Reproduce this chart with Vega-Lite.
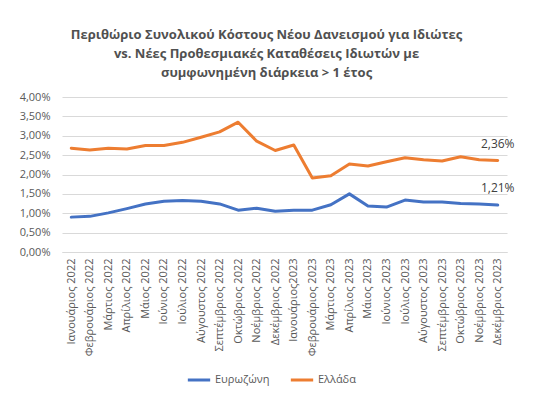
{
  "$schema": "https://vega.github.io/schema/vega-lite/v6.json",
  "autosize": {"type": "none"},
  "width": 445,
  "height": 155,
  "padding": {"left": 62, "top": 97, "right": 44, "bottom": 145},
  "background": "white",
  "title": {
    "text": ["Περιθώριο Συνολικού Κόστους Νέου Δανεισμού για Ιδιώτες", "vs. Νέες Προθεσμιακές Καταθέσεις Ιδιωτών με", "συμφωνημένη διάρκεια > 1 έτος"],
    "font": "Open Sans",
    "fontSize": 13,
    "fontWeight": "bold",
    "color": "#505050",
    "lineHeight": 19,
    "offset": 11,
    "anchor": "middle",
    "dx": -18
  },
  "config": {
    "locale": {"number": {"decimal": ",", "thousands": ".", "grouping": [3], "currency": ["", " €"]}},
    "view": {"stroke": null},
    "font": "Open Sans"
  },
  "data": {
    "values": [
      {"month": "Ιανουάριος 2022", "series": "Ευρωζώνη", "value": 0.0090},
      {"month": "Φεβρουάριος 2022", "series": "Ευρωζώνη", "value": 0.0092},
      {"month": "Μάρτιος 2022", "series": "Ευρωζώνη", "value": 0.0101},
      {"month": "Απρίλιος 2022", "series": "Ευρωζώνη", "value": 0.0112},
      {"month": "Μάιος 2022", "series": "Ευρωζώνη", "value": 0.0124},
      {"month": "Ιούνιος 2022", "series": "Ευρωζώνη", "value": 0.0131},
      {"month": "Ιούλιος 2022", "series": "Ευρωζώνη", "value": 0.0133},
      {"month": "Αύγουστος 2022", "series": "Ευρωζώνη", "value": 0.0131},
      {"month": "Σεπτέμβριος 2022", "series": "Ευρωζώνη", "value": 0.0124},
      {"month": "Οκτώβριος 2022", "series": "Ευρωζώνη", "value": 0.0108},
      {"month": "Νοέμβριος 2022", "series": "Ευρωζώνη", "value": 0.0113},
      {"month": "Δεκέμβριος 2022", "series": "Ευρωζώνη", "value": 0.0105},
      {"month": "Ιανουάριος2023", "series": "Ευρωζώνη", "value": 0.0108},
      {"month": "Φεβρουάριος 2023", "series": "Ευρωζώνη", "value": 0.0108},
      {"month": "Μάρτιος 2023", "series": "Ευρωζώνη", "value": 0.0122},
      {"month": "Απρίλιος 2023", "series": "Ευρωζώνη", "value": 0.0150},
      {"month": "Μάιος 2023", "series": "Ευρωζώνη", "value": 0.0119},
      {"month": "Ιούνιος 2023", "series": "Ευρωζώνη", "value": 0.0116},
      {"month": "Ιούλιος 2023", "series": "Ευρωζώνη", "value": 0.0134},
      {"month": "Αύγουστος 2023", "series": "Ευρωζώνη", "value": 0.0129},
      {"month": "Σεπτέμβριος 2023", "series": "Ευρωζώνη", "value": 0.0129},
      {"month": "Οκτώβριος 2023", "series": "Ευρωζώνη", "value": 0.0125},
      {"month": "Νοέμβριος 2023", "series": "Ευρωζώνη", "value": 0.0124},
      {"month": "Δεκέμβριος 2023", "series": "Ευρωζώνη", "value": 0.0121},
      {"month": "Ιανουάριος 2022", "series": "Ελλάδα", "value": 0.0268},
      {"month": "Φεβρουάριος 2022", "series": "Ελλάδα", "value": 0.0263},
      {"month": "Μάρτιος 2022", "series": "Ελλάδα", "value": 0.0268},
      {"month": "Απρίλιος 2022", "series": "Ελλάδα", "value": 0.0266},
      {"month": "Μάιος 2022", "series": "Ελλάδα", "value": 0.0275},
      {"month": "Ιούνιος 2022", "series": "Ελλάδα", "value": 0.0275},
      {"month": "Ιούλιος 2022", "series": "Ελλάδα", "value": 0.0283},
      {"month": "Αύγουστος 2022", "series": "Ελλάδα", "value": 0.0296},
      {"month": "Σεπτέμβριος 2022", "series": "Ελλάδα", "value": 0.0310},
      {"month": "Οκτώβριος 2022", "series": "Ελλάδα", "value": 0.0335},
      {"month": "Νοέμβριος 2022", "series": "Ελλάδα", "value": 0.0286},
      {"month": "Δεκέμβριος 2022", "series": "Ελλάδα", "value": 0.0262},
      {"month": "Ιανουάριος2023", "series": "Ελλάδα", "value": 0.0276},
      {"month": "Φεβρουάριος 2023", "series": "Ελλάδα", "value": 0.0191},
      {"month": "Μάρτιος 2023", "series": "Ελλάδα", "value": 0.0197},
      {"month": "Απρίλιος 2023", "series": "Ελλάδα", "value": 0.0227},
      {"month": "Μάιος 2023", "series": "Ελλάδα", "value": 0.0222},
      {"month": "Ιούνιος 2023", "series": "Ελλάδα", "value": 0.0233},
      {"month": "Ιούλιος 2023", "series": "Ελλάδα", "value": 0.0243},
      {"month": "Αύγουστος 2023", "series": "Ελλάδα", "value": 0.0238},
      {"month": "Σεπτέμβριος 2023", "series": "Ελλάδα", "value": 0.0235},
      {"month": "Οκτώβριος 2023", "series": "Ελλάδα", "value": 0.0246},
      {"month": "Νοέμβριος 2023", "series": "Ελλάδα", "value": 0.0238},
      {"month": "Δεκέμβριος 2023", "series": "Ελλάδα", "value": 0.0236}
    ]
  },
  "encoding": {
    "x": {
      "field": "month", "type": "nominal", "sort": null,
      "scale": {"type": "point", "padding": 0.5},
      "axis": {
        "title": null, "labelAngle": -90, "labelFont": "Open Sans", "labelFontSize": 11,
        "labelColor": "#595959", "ticks": false, "domain": true, "domainColor": "#d9d9d9",
        "labelPadding": 6, "grid": false
      }
    },
    "y": {
      "field": "value", "type": "quantitative",
      "scale": {"domain": [0, 0.04], "nice": false},
      "axis": {
        "title": null, "format": ".2%", "values": [0, 0.005, 0.01, 0.015, 0.02, 0.025, 0.03, 0.035, 0.04],
        "labelFont": "Open Sans", "labelFontSize": 11, "labelColor": "#595959",
        "ticks": false, "domain": false, "gridColor": "#d9d9d9", "gridWidth": 1, "labelPadding": 12
      }
    },
    "color": {
      "field": "series", "type": "nominal",
      "scale": {"domain": ["Ευρωζώνη", "Ελλάδα"], "range": ["#4472C4", "#ED7D31"]},
      "legend": {
        "title": null, "orient": "none", "direction": "horizontal", "legendX": 124, "legendY": 270,
        "symbolType": "stroke", "symbolSize": 500, "symbolStrokeWidth": 3,
        "labelFont": "Open Sans", "labelFontSize": 11, "labelColor": "#595959", "columnPadding": 14, "labelOffset": 3
      }
    }
  },
  "layer": [
    {"mark": {"type": "line", "strokeWidth": 3, "strokeCap": "round", "strokeJoin": "round"}},
    {
      "transform": [{"filter": "datum.month === 'Δεκέμβριος 2023'"}],
      "mark": {"type": "text", "dy": -17, "fontSize": 12, "font": "Open Sans", "color": "#404040"},
      "encoding": {
        "text": {"field": "value", "type": "quantitative", "format": ".2%"},
        "color": {"value": "#404040"}
      }
    }
  ]
}
